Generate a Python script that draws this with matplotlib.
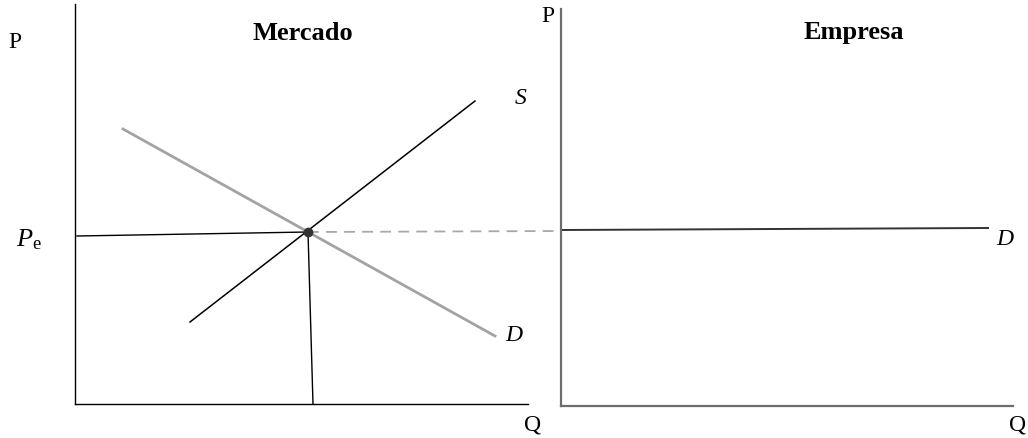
import matplotlib
matplotlib.use("Agg")
import matplotlib.pyplot as plt

plt.rcParams['font.family'] = ['Liberation Serif', 'DejaVu Serif']
plt.rcParams['mathtext.fontset'] = 'custom'
plt.rcParams['mathtext.rm'] = 'Liberation Serif'
plt.rcParams['mathtext.it'] = 'Liberation Serif:italic'

# === datos (unidades arbitrarias Q, P) ===
demanda_q = [0.96, 8.40]
demanda_p = [5.50, 1.36]
oferta_q = [2.30, 8.00]
oferta_p = [1.64, 6.06]
equil_q = 4.66
equil_p = 3.44
pe_q = [0.04, equil_q]
pe_p = [3.36, equil_p]
qe_q = [equil_q, 4.76]
qe_p = [equil_p, 0.0]
guia_q = [equil_q, 9.72]
guia_p = [equil_p, 3.46]
empresa_q = [0.0, 8.54]
empresa_p = [3.52, 3.56]

W, H = 1028, 439
fig = plt.figure(figsize=(W / 100, H / 100), dpi=100)

# === panel mercado ===
ax1 = fig.add_axes([75 / W, (H - 405) / H, 453 / W, 400 / H])
ax1.set_xlim(0, 9.06)
ax1.set_ylim(0, 8.0)
for ax in [ax1]:
    pass

ax2 = fig.add_axes([561 / W, (H - 407) / H, 452 / W, 397 / H])
ax2.set_xlim(0, 9.04)
ax2.set_ylim(0, 7.94)

for ax, col, lw in [(ax1, 'black', 1.0), (ax2, '#6e6e6e', 1.6)]:
    ax.spines['top'].set_visible(False)
    ax.spines['right'].set_visible(False)
    ax.spines['left'].set_color(col)
    ax.spines['bottom'].set_color(col)
    ax.spines['left'].set_linewidth(lw)
    ax.spines['bottom'].set_linewidth(lw)
    ax.set_xticks([])
    ax.set_yticks([])
    ax.patch.set_alpha(0)

ax1.plot(guia_q, guia_p, '--', color='#a8a8a8', lw=1.3, dashes=(6, 4), clip_on=False)
ax1.plot(pe_q, pe_p, color='black', lw=1.0)
ax1.plot(qe_q, qe_p, color='black', lw=1.0)
ax1.plot(oferta_q, oferta_p, color='black', lw=1.1)
ax1.plot(demanda_q, demanda_p, color='#a3a3a3', lw=2.0)
ax1.plot([equil_q], [equil_p], 'o', color='#333333', ms=6, zorder=5)

ax1.text(-1.2, 7.24, 'P', fontsize=17, ha='center', va='center')
ax1.text(4.56, 7.44, 'Mercado', fontsize=19, weight='bold', ha='center', va='center')
ax1.text(8.92, 6.12, 'S', fontsize=17, style='italic', ha='center', va='center')
ax1.text(8.78, 1.38, 'D', fontsize=17, style='italic', ha='center', va='center')
ax1.text(9.16, -0.4, 'Q', fontsize=17, ha='center', va='center', clip_on=False)
ax1.text(-0.92, 3.3, r'$P_{\mathrm{e}}$', fontsize=19, ha='center', va='center')

# === panel empresa ===
ax2.plot(empresa_q, empresa_p, color='#333333', lw=1.4, clip_on=False)
ax2.text(-0.26, 7.8, 'P', fontsize=17, ha='center', va='center')
ax2.text(5.86, 7.48, 'Empresa', fontsize=19, weight='bold', ha='center', va='center')
ax2.text(8.88, 3.34, 'D', fontsize=17, style='italic', ha='center', va='center')
ax2.text(9.14, -0.36, 'Q', fontsize=17, ha='center', va='center')

fig.savefig('out.png', dpi=100)
